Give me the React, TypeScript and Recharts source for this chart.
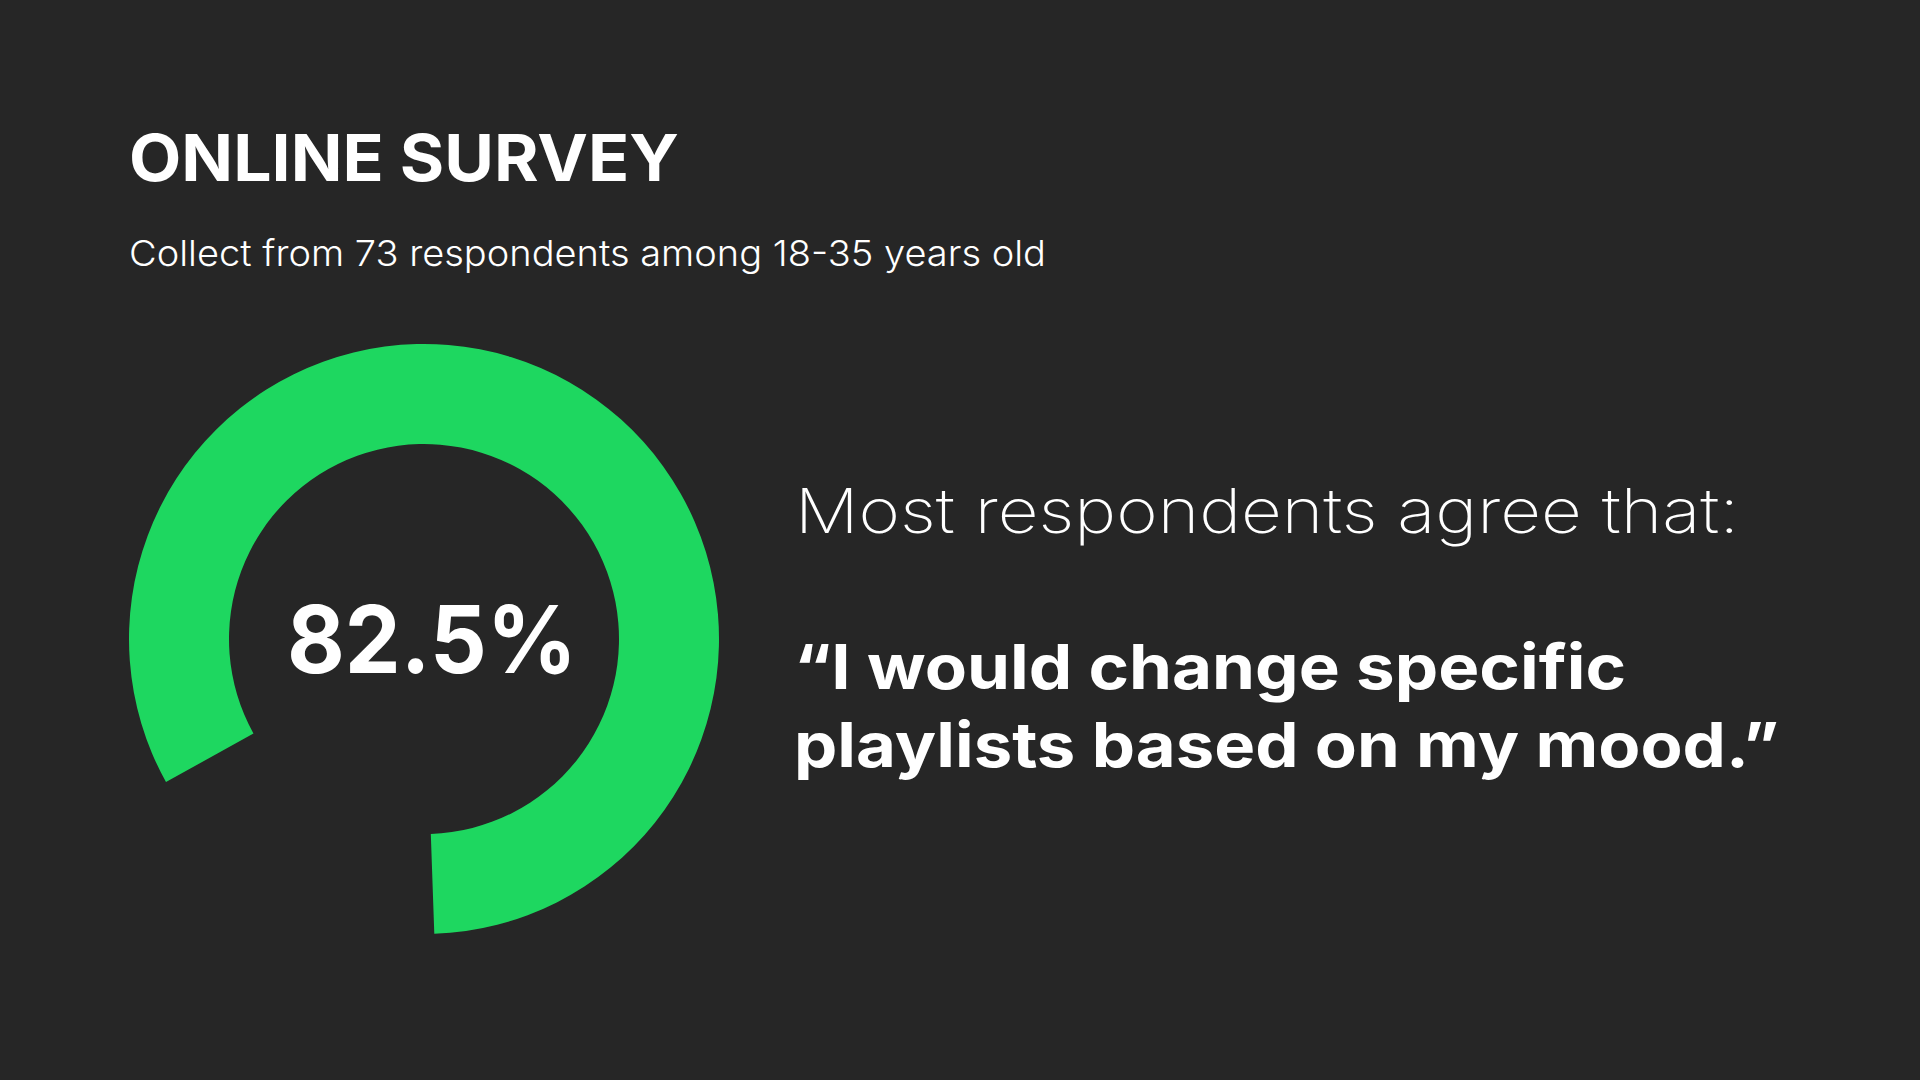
import { PieChart, Pie, Cell } from 'recharts';

// survey result, share of respondents who agree vs the rest
const segments = ['Agree', 'Other'];
const shares = [82.5, 17.5];
const segmentColors = ['#1ED760', 'transparent'];

const title = 'ONLINE SURVEY';
const subtitle = 'Collect from 73 respondents among 18-35 years old';
const lead = 'Most respondents agree that:';
const quoteLines = ['\u201CI would change specific', 'playlists based on my mood.\u201D'];

const W = 1920;
const H = 1080;
const BG = '#262626';
const FONT = 'Inter, "Open Sans", "Liberation Sans", sans-serif';

export default function App() {
  const pieData = segments.map((name, i) => ({ name, value: shares[i] }));

  return (
    <div
      style={{
        position: 'absolute',
        left: 0,
        top: 0,
        width: W,
        height: H,
        background: BG,
        overflow: 'hidden',
      }}
    >
      <PieChart width={W} height={H} margin={{ top: 0, right: 0, bottom: 0, left: 0 }}>
        <Pie
          data={pieData}
          dataKey="value"
          nameKey="name"
          cx={424}
          cy={639}
          innerRadius={195}
          outerRadius={295}
          startAngle={-88}
          endAngle={272}
          stroke="none"
          isAnimationActive={false}
        >
          {pieData.map((d, i) => (
            <Cell key={d.name} fill={segmentColors[i]} />
          ))}
        </Pie>
      </PieChart>

      {/* text overlay */}
      <svg
        width={W}
        height={H}
        style={{ position: 'absolute', left: 0, top: 0, pointerEvents: 'none' }}
        fontFamily={FONT}
        fill="#ffffff"
      >
        <text x={129} y={181} fontSize={65} fontWeight={700} textLength={550} lengthAdjust="spacingAndGlyphs">
          {title}
        </text>
        <text x={129} y={266} fontSize={36} fontWeight={300} textLength={917} lengthAdjust="spacingAndGlyphs">
          {subtitle}
        </text>
        <text x={432} y={673} fontSize={94} fontWeight={700} textAnchor="middle" textLength={290} lengthAdjust="spacingAndGlyphs">
          {`${shares[0]}%`}
        </text>
        <text x={795} y={533} fontSize={62} fontWeight={200} textLength={944} lengthAdjust="spacingAndGlyphs">
          {lead}
        </text>
        <text x={794} y={689} fontSize={62} fontWeight={700} textLength={832} lengthAdjust="spacingAndGlyphs">
          {quoteLines[0]}
        </text>
        <text x={794} y={767} fontSize={62} fontWeight={700} textLength={985} lengthAdjust="spacingAndGlyphs">
          {quoteLines[1]}
        </text>
      </svg>
    </div>
  );
}
